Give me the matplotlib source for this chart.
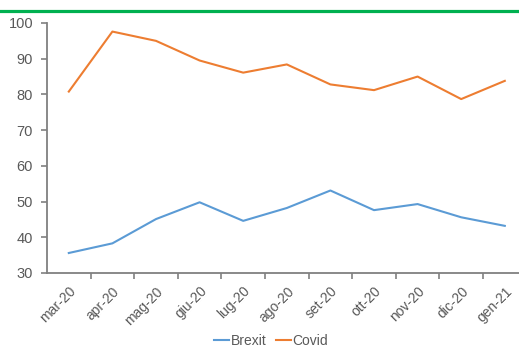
import matplotlib
matplotlib.use("Agg")
import matplotlib.pyplot as plt
from matplotlib.lines import Line2D
from matplotlib.transforms import ScaledTranslation

plt.rcParams['font.family'] = ['Liberation Sans', 'DejaVu Sans']

months = ["mar-20", "apr-20", "mag-20", "giu-20", "lug-20", "ago-20",
          "set-20", "ott-20", "nov-20", "dic-20", "gen-21"]
brexit = [35.6, 38.3, 45.1, 49.8, 44.6, 48.2, 53.1, 47.6, 49.3, 45.6, 43.2]
covid = [80.8, 97.6, 95.0, 89.5, 86.1, 88.4, 82.8, 81.2, 85.0, 78.7, 83.8]
y_ticks = [30, 40, 50, 60, 70, 80, 90, 100]

W, H = 519, 349
fig = plt.figure(figsize=(W / 100, H / 100), dpi=100)

# green rule across the top
fig.add_artist(Line2D([0, 1], [1 - 10.5 / H, 1 - 10.5 / H], transform=fig.transFigure,
                      color="#00B050", lw=2.3))

left, right, bottom, top = 47, 526.6, 273, 23
ax = fig.add_axes([left / W, 1 - bottom / H, (right - left) / W, (bottom - top) / H])

x = list(range(len(months)))
ax.plot(x, brexit, color="#5B9BD5", lw=1.5, label="Brexit")
ax.plot(x, covid, color="#ED7D31", lw=1.5, label="Covid")

ax.set_xlim(-0.5, len(months) - 0.5)
ax.set_ylim(30, 100)
ax.set_yticks(y_ticks)

ax.set_xticks(x)
ax.set_xticklabels(months, rotation=45, ha="right", rotation_mode="anchor")
shift = ScaledTranslation(-4 / 100, -2 / 100, fig.dpi_scale_trans)
for lab in ax.get_xticklabels():
    lab.set_transform(lab.get_transform() + shift)
ax.set_xticks([i + 0.5 for i in range(len(months))], minor=True)
ax.tick_params(axis="x", which="major", length=0, pad=8, labelsize=10, labelcolor="#595959")
ax.tick_params(axis="x", which="minor", length=4, width=1.2, color="#808080", direction="out")
ax.tick_params(axis="y", length=4, width=1.2, color="#808080", labelsize=10.5,
               labelcolor="#595959", pad=6)

for s in ("top", "right"):
    ax.spines[s].set_visible(False)
for s in ("left", "bottom"):
    ax.spines[s].set_color("#808080")
    ax.spines[s].set_linewidth(1.3)

leg = fig.legend(handles=ax.get_lines(), loc="center", bbox_to_anchor=(271 / W, 1 - 341 / H),
                 ncol=2, frameon=False, fontsize=10, handlelength=1.1, handletextpad=0.1,
                 columnspacing=0.7)
for t in leg.get_texts():
    t.set_color("#595959")

fig.savefig("out.png", dpi=100)
